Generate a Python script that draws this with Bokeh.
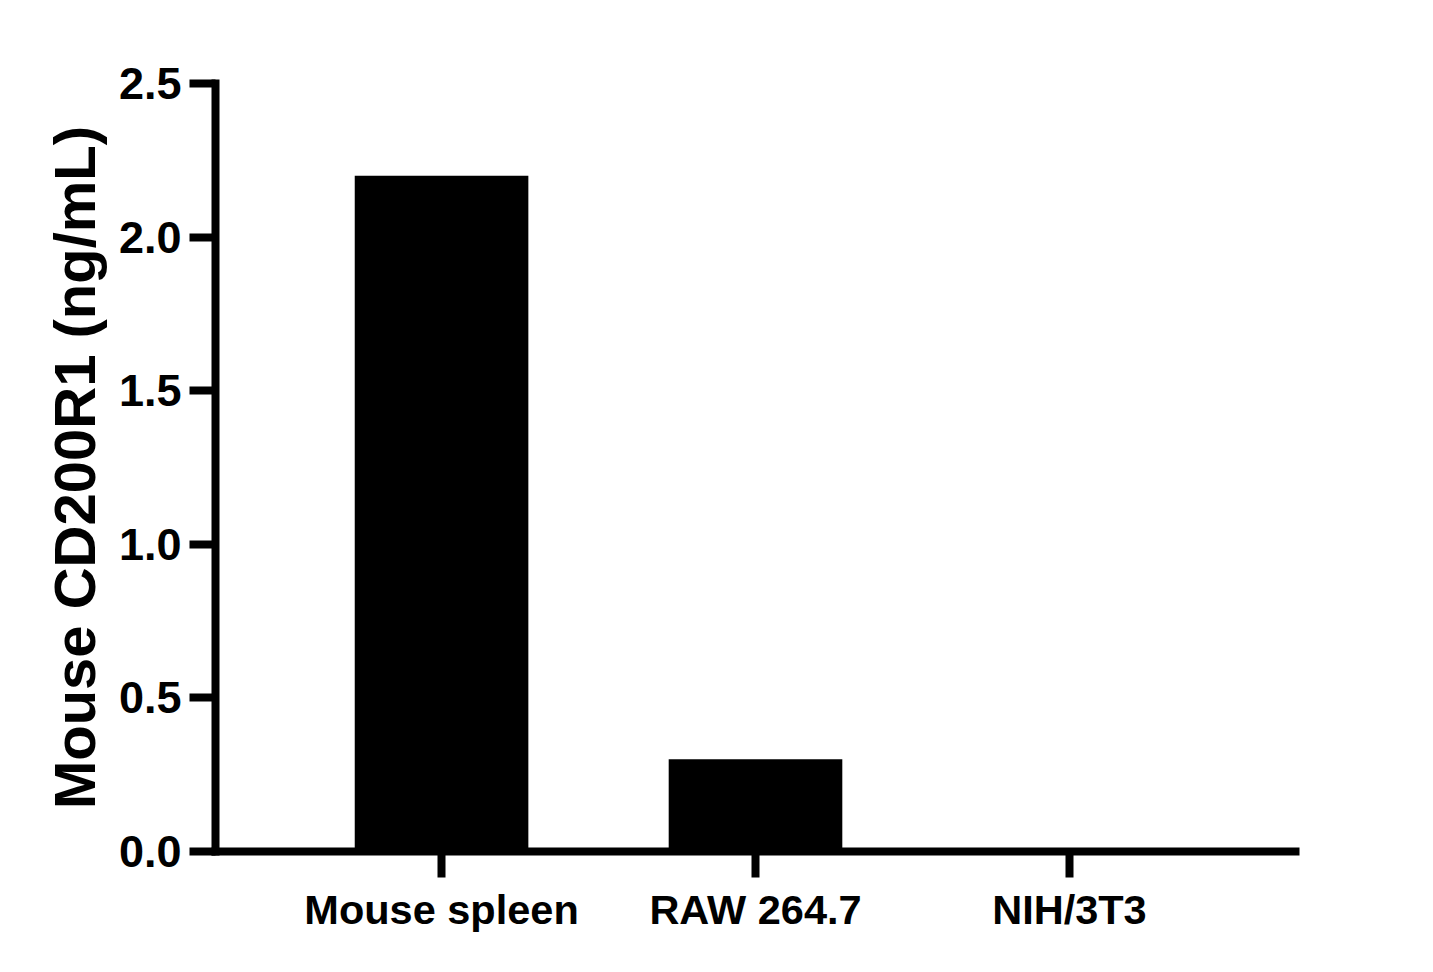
from bokeh.plotting import figure
from bokeh.models import FactorRange, Range1d, FixedTicker
from bokeh.embed import file_html
from bokeh.resources import INLINE

categories = ["Mouse spleen", "RAW 264.7", "NIH/3T3"]
values = [2.2, 0.3, 0.0]
y_ticks = [0.0, 0.5, 1.0, 1.5, 2.0, 2.5]
y_tick_labels = {0.0: "0.0", 0.5: "0.5", 1.0: "1.0", 1.5: "1.5", 2.0: "2.0", 2.5: "2.5"}
y_title = "Mouse CD200R1 (ng/mL)"

FONT = "Liberation Sans"

p = figure(
    width=1417, height=956,
    x_range=FactorRange(*categories, range_padding=0.22, range_padding_units="absolute"),
    y_range=Range1d(0, 2.5),
    output_backend="svg", toolbar_location=None,
    min_border_left=215, min_border_right=122, min_border_top=83, min_border_bottom=105,
)
p.vbar(x=categories, top=values, width=0.553, color="black", line_color=None)

p.grid.visible = False
p.outline_line_color = None
p.background_fill_color = "white"
p.border_fill_color = "white"

for ax in (p.xaxis[0], p.yaxis[0]):
    ax.axis_line_width = 8
    ax.axis_line_color = "black"
    ax.axis_line_cap = "square"
    ax.major_tick_line_width = 8
    ax.major_tick_line_color = "black"
    ax.major_tick_out = 26
    ax.major_tick_in = 0
    ax.minor_tick_line_color = None
    ax.major_label_text_font = FONT
    ax.major_label_text_font_style = "bold"
    ax.major_label_text_color = "black"
    ax.major_label_standoff = 8

p.xaxis.major_label_text_font_size = "41.5px"
p.yaxis.major_label_text_font_size = "45px"

p.yaxis.ticker = FixedTicker(ticks=y_ticks)
p.yaxis.major_label_overrides = y_tick_labels
p.yaxis.axis_label = y_title
p.yaxis.axis_label_text_font = FONT
p.yaxis.axis_label_text_font_style = "bold"
p.yaxis.axis_label_text_font_size = "58px"
p.yaxis.axis_label_text_color = "black"
p.yaxis.axis_label_standoff = 9

open("out.html", "w").write(file_html(p, INLINE))
